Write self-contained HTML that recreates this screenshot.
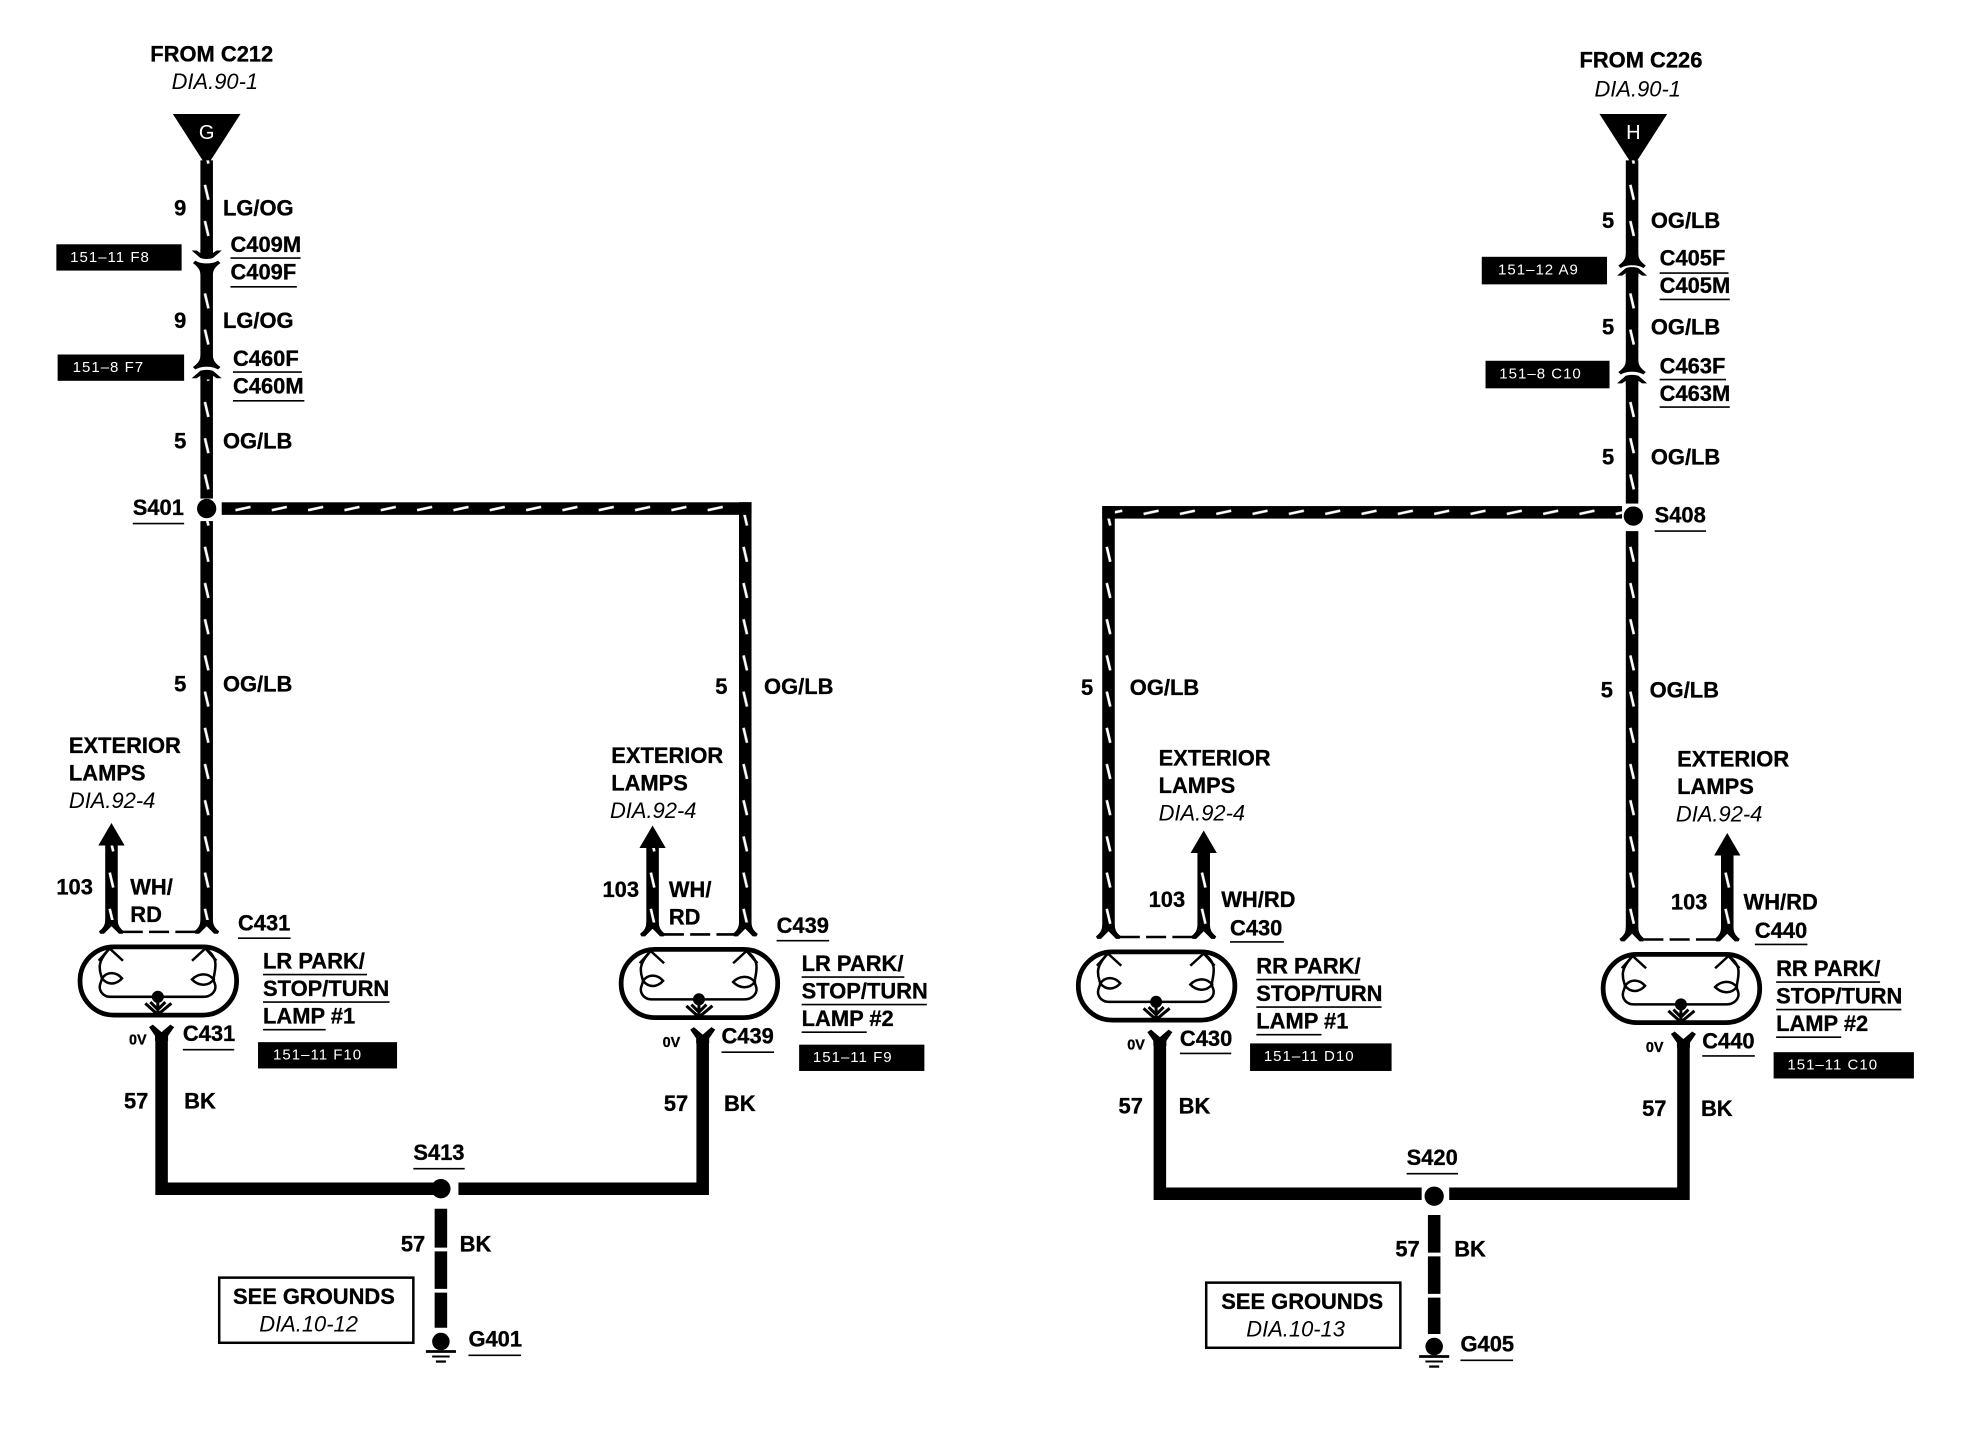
<!DOCTYPE html>
<html><head><meta charset="utf-8"><style>
html,body{margin:0;padding:0;background:#fff}
svg{display:block}
text{font-family:"Liberation Sans",sans-serif;font-size:17.5px;font-weight:bold;fill:#000;stroke:#000;stroke-width:.25}
text.i{font-weight:normal;font-style:italic;stroke:none}
text.t{font-weight:normal;fill:#fff;stroke:none;font-size:12px;letter-spacing:.8px}
text.s{font-size:11.5px}
.u{stroke:#000;stroke-width:1.3;fill:none}
</style></head><body>
<svg width="1964" height="1440" viewBox="0 0 1568 1149.6" xmlns="http://www.w3.org/2000/svg">
<defs>
<pattern id="v" patternUnits="userSpaceOnUse" x="-5" y="0" width="10" height="28.9"><rect x="0" y="0" width="10" height="28.9" fill="#000"/><line x1="3.6" y1="3" x2="6.4" y2="15" stroke="#fff" stroke-width="2.1"/></pattern>
<pattern id="h" patternUnits="userSpaceOnUse" x="0" y="-5" width="29" height="10"><rect x="0" y="0" width="29" height="10" fill="#000"/><line x1="14" y1="6.3" x2="26" y2="3.7" stroke="#fff" stroke-width="2.1"/></pattern>
<g id="lamp" fill="none" stroke="#000">
<rect x="1.9" y="1.9" width="125" height="54.5" rx="27" ry="27" stroke-width="3.8"/>
<path d="M25.5 3.2C21 8 17.6 13 17.6 18C17.6 23 19 25 19.4 27C19 30 17.6 31 17.6 34C17.6 38 21 41.8 26 41.8H100.6C106 41.8 110 38 110 33.8C110 31 108.5 30 108.6 28C108.5 25 110 22 110 16C110 10 106 6 102 3.2" stroke-width="2"/>
<path d="M16.8 13L25.5 3.2L36.2 13M91.3 13L102 3.2L110.7 13" stroke-width="2"/>
<path d="M19.4 27C24 21 31 22 35.4 27C31 32 24 33 19.4 27ZM108.6 28C104 22 96 23 91.3 28C96 33 104 34 108.6 28Z" stroke-width="2"/>
<circle cx="64" cy="41.8" r="4.8" fill="#000" stroke="none"/>
<path d="M64 41.8V56M54 47L64 56L74.8 47M58 46L64 52L70 46" stroke-width="2.4"/>
</g>
<g id="ground"><circle cx="0" cy="-1" r="7" fill="#000"/><path d="M-12 7H12" stroke="#000" stroke-width="2.2"/><path d="M-7 11H7" stroke="#000" stroke-width="1.6"/><path d="M-4 15H4" stroke="#000" stroke-width="1.8"/></g>
<path id="foot" d="M-5 -10C-5 -6 -7 -3 -10 -1L-9 1L-6 1L0 -5L6 1L9 1L10 -1C7 -3 5 -6 5 -10Z" fill="#000"/>
<path id="y" d="M-10 1L-7 -1L0 5L7 -1L10 1L5.2 8V12H-5.2V8Z" fill="#000"/>
<path id="fl" d="M-5 -8C-5 -4 -8 -1 -11 1L-9 3C-5 0 5 0 9 3L11 1C8 -1 5 -4 5 -8Z" fill="#000"/>
<path id="ah" d="M-12 4L-5 -2C-2 -3 2 -3 5 -2L12 4L8 4L5 2V5H-5V2L-8 4Z" fill="#000"/>
<path id="arr" d="M-10.5 0L0 -18L10.5 0Z" fill="#000"/>
</defs>
<rect width="1568" height="1149.6" fill="#fff"/>

<!-- LEFT MAIN -->
<path d="M138 91H192L165 133Z"/>
<text x="165" y="111" text-anchor="middle" style="fill:#fff;stroke:none;font-weight:normal;font-size:16px">G</text>
<g transform="translate(165,0)">
<rect x="-5" y="128" width="10" height="75" fill="url(#v)"/>
<rect x="-5" y="215" width="10" height="73" fill="url(#v)"/>
<rect x="-5" y="299" width="10" height="99" fill="url(#v)"/>
<rect x="-5" y="416" width="10" height="322" fill="url(#v)"/>
<g transform="translate(0,204) scale(1,-1)"><use href="#ah"/></g>
<g transform="translate(0,211) scale(1,-1)"><use href="#fl"/></g>
<use href="#fl" y="292"/><use href="#ah" y="298"/>
<use href="#foot" y="744.5"/>
</g>
<circle cx="165" cy="406" r="7.7"/>
<g transform="translate(0,406)"><rect x="177" y="-5" width="423" height="10" fill="url(#h)"/></g>
<g transform="translate(595,0)"><rect x="-5" y="401" width="10" height="338" fill="url(#v)"/><rect x="-5" y="401" width="10" height="10"/><use href="#foot" y="746.5"/></g>

<!-- Lamp 1 -->
<g transform="translate(89,0)"><rect x="-5" y="674" width="10" height="64" fill="url(#v)"/><use href="#arr" y="675"/><use href="#foot" y="744.5"/></g>
<path d="M98 744H156" stroke="#000" stroke-width="2" stroke-dasharray="16 5"/>
<use href="#lamp" x="62" y="754"/>
<use href="#y" x="129" y="819"/>
<!-- Lamp 2 -->
<g transform="translate(521,0)"><rect x="-5" y="676" width="10" height="64" fill="url(#v)"/><use href="#arr" y="677"/><use href="#foot" y="746.5"/></g>
<path d="M530 746H586" stroke="#000" stroke-width="2" stroke-dasharray="16 5"/>
<use href="#lamp" x="494" y="756"/>
<use href="#y" x="561" y="821"/>
<!-- bottom left -->
<path d="M129 828V949H347M366 949H561V830" fill="none" stroke="#000" stroke-width="10"/>
<circle cx="352" cy="949" r="7.7"/>
<path d="M352 965V996M352 999V1029M352 1032V1060" stroke="#000" stroke-width="10"/>
<use href="#ground" x="352" y="1072"/>
<rect x="175" y="1020" width="155" height="52" fill="none" stroke="#000" stroke-width="2"/>

<!-- RIGHT MAIN -->
<path d="M1277 91H1331L1304 133Z"/>
<text x="1304" y="111" text-anchor="middle" style="fill:#fff;stroke:none;font-weight:normal;font-size:16px">H</text>
<g transform="translate(1303,0)">
<rect x="-5" y="128" width="10" height="78" fill="url(#v)"/>
<rect x="-5" y="217" width="10" height="73" fill="url(#v)"/>
<rect x="-5" y="303" width="10" height="99" fill="url(#v)"/>
<rect x="-5" y="424" width="10" height="320" fill="url(#v)"/>
<use href="#fl" y="211"/><use href="#ah" y="216"/>
<use href="#fl" y="296"/><use href="#ah" y="302"/>
<use href="#foot" y="750.5"/>
</g>
<circle cx="1304" cy="412" r="7.7"/>
<g transform="translate(0,409)"><rect x="881" y="-5" width="414" height="10" fill="url(#h)"/></g>
<g transform="translate(885,0)"><rect x="-5" y="404" width="10" height="338" fill="url(#v)"/><rect x="-5" y="404" width="10" height="10"/><use href="#foot" y="748.5"/></g>
<!-- Lamp 3 -->
<g transform="translate(961,0)"><rect x="-5" y="680" width="10" height="62" fill="url(#v)"/><use href="#arr" y="681"/><use href="#foot" y="748.5"/></g>
<path d="M894 748H952" stroke="#000" stroke-width="2" stroke-dasharray="16 5"/>
<use href="#lamp" x="859" y="758"/>
<use href="#y" x="926" y="823"/>
<!-- Lamp 4 -->
<g transform="translate(1379,0)"><rect x="-5" y="682" width="10" height="62" fill="url(#v)"/><use href="#arr" y="683"/><use href="#foot" y="750.5"/></g>
<path d="M1312 750H1370" stroke="#000" stroke-width="2" stroke-dasharray="16 5"/>
<use href="#lamp" x="1278" y="760"/>
<use href="#y" x="1344" y="824.5"/>
<!-- bottom right -->
<path d="M926 832V953H1135M1157 953H1344V834" fill="none" stroke="#000" stroke-width="10"/>
<circle cx="1145" cy="955" r="7.7"/>
<path d="M1145 970V1000M1145 1003V1033M1145 1036V1065" stroke="#000" stroke-width="10"/>
<use href="#ground" x="1145" y="1076"/>
<rect x="963" y="1024" width="155" height="52" fill="none" stroke="#000" stroke-width="2"/>

<!-- black tags -->
<rect x="45" y="195" width="100" height="21"/><rect x="46" y="283" width="101" height="21"/>
<rect x="206" y="832" width="111" height="21"/><rect x="638" y="834" width="100" height="21"/>
<rect x="1183" y="205" width="100" height="22"/><rect x="1186" y="288" width="99" height="22"/>
<rect x="998" y="833" width="113" height="22"/><rect x="1416" y="840" width="112" height="21"/>
<text class="t" x="56" y="209">151–11 F8</text>
<text class="t" x="58" y="297">151–8 F7</text>
<text class="t" x="218" y="846">151–11 F10</text>
<text class="t" x="649" y="848">151–11 F9</text>
<text class="t" x="1196" y="219">151–12 A9</text>
<text class="t" x="1197" y="302">151–8 C10</text>
<text class="t" x="1009" y="847">151–11 D10</text>
<text class="t" x="1427" y="854">151–11 C10</text>

<!-- underlines -->
<path class="u" d="M184 206H240M184 229H237M186 297H241M186 320H243M106 418H147M190 749H232M210 778H293M210 800H311M210 822H260M146 838H187M330 933H371M374 1082H416M620 751H662M640 780H722M640 802H740M640 824H692M576 840H618M1325 218H1380M1325 239H1381M1325 303H1378M1325 325H1381M1321 424H1362M982 752H1025M1401 754H1443M1003 782H1086M1003 804H1103M1003 826H1055M942 841H983M1359 843H1401M1418 784H1501M1418 806H1518M1418 828H1470M1123 937H1164M1166 1086H1208"/>

<!-- left labels -->
<text x="120" y="49">FROM C212</text><text class="i" x="137" y="71">DIA.90-1</text>
<text x="139" y="172">9</text><text x="178" y="172">LG/OG</text>
<text x="184" y="201">C409M</text><text x="184" y="223">C409F</text>
<text x="139" y="262">9</text><text x="178" y="262">LG/OG</text>
<text x="186" y="292">C460F</text><text x="186" y="314">C460M</text>
<text x="139" y="358">5</text><text x="178" y="358">OG/LB</text>
<text x="106" y="411">S401</text>
<text x="139" y="552">5</text><text x="178" y="552">OG/LB</text>
<text x="55" y="601">EXTERIOR</text><text x="55" y="623">LAMPS</text><text class="i" x="55" y="645">DIA.92-4</text>
<text x="45" y="714">103</text><text x="104" y="714">WH/</text><text x="104" y="736">RD</text>
<text x="190" y="743">C431</text>
<text x="210" y="773">LR PARK/</text><text x="210" y="795">STOP/TURN</text><text x="210" y="817">LAMP #1</text>
<text class="s" x="103" y="834">0V</text><text x="146" y="831">C431</text>
<text x="99" y="885">57</text><text x="147" y="885">BK</text>
<text x="330" y="926">S413</text>
<text x="320" y="999">57</text><text x="367" y="999">BK</text>
<text x="186" y="1041">SEE GROUNDS</text><text class="i" x="207" y="1063">DIA.10-12</text>
<text x="374" y="1075">G401</text>

<text x="571" y="554">5</text><text x="610" y="554">OG/LB</text>
<text x="488" y="609">EXTERIOR</text><text x="488" y="631">LAMPS</text><text class="i" x="487" y="653">DIA.92-4</text>
<text x="481" y="716">103</text><text x="534" y="716">WH/</text><text x="534" y="738">RD</text>
<text x="620" y="745">C439</text>
<text x="640" y="775">LR PARK/</text><text x="640" y="797">STOP/TURN</text><text x="640" y="819">LAMP #2</text>
<text class="s" x="529" y="836">0V</text><text x="576" y="833">C439</text>
<text x="530" y="887">57</text><text x="578" y="887">BK</text>

<!-- right labels -->
<text x="1261" y="54">FROM C226</text><text class="i" x="1273" y="77">DIA.90-1</text>
<text x="1279" y="182">5</text><text x="1318" y="182">OG/LB</text>
<text x="1325" y="212">C405F</text><text x="1325" y="234">C405M</text>
<text x="1279" y="267">5</text><text x="1318" y="267">OG/LB</text>
<text x="1325" y="298">C463F</text><text x="1325" y="320">C463M</text>
<text x="1279" y="371">5</text><text x="1318" y="371">OG/LB</text>
<text x="1321" y="417">S408</text>
<text x="863" y="555">5</text><text x="902" y="555">OG/LB</text>
<text x="1278" y="557">5</text><text x="1317" y="557">OG/LB</text>
<text x="925" y="611">EXTERIOR</text><text x="925" y="633">LAMPS</text><text class="i" x="925" y="655">DIA.92-4</text>
<text x="1339" y="612">EXTERIOR</text><text x="1339" y="634">LAMPS</text><text class="i" x="1338" y="656">DIA.92-4</text>
<text x="917" y="724">103</text><text x="975" y="724">WH/RD</text><text x="982" y="747">C430</text>
<text x="1334" y="726">103</text><text x="1392" y="726">WH/RD</text><text x="1401" y="749">C440</text>
<text x="1003" y="777">RR PARK/</text><text x="1003" y="799">STOP/TURN</text><text x="1003" y="821">LAMP #1</text>
<text x="1418" y="779">RR PARK/</text><text x="1418" y="801">STOP/TURN</text><text x="1418" y="823">LAMP #2</text>
<text class="s" x="900" y="838">0V</text><text x="942" y="835">C430</text>
<text class="s" x="1314" y="840">0V</text><text x="1359" y="837">C440</text>
<text x="893" y="889">57</text><text x="941" y="889">BK</text>
<text x="1311" y="891">57</text><text x="1358" y="891">BK</text>
<text x="1123" y="930">S420</text>
<text x="1114" y="1003">57</text><text x="1161" y="1003">BK</text>
<text x="975" y="1045">SEE GROUNDS</text><text class="i" x="995" y="1067">DIA.10-13</text>
<text x="1166" y="1079">G405</text>
</svg>
</body></html>
